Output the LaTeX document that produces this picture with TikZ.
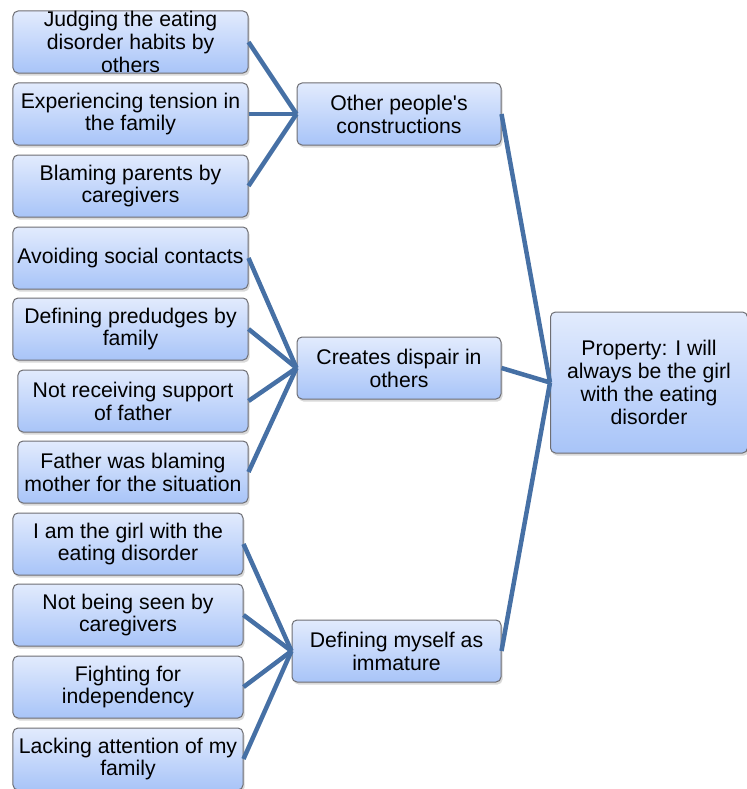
\documentclass[tikz,border=0pt]{standalone}
\usepackage{fontspec}
\setmainfont{Liberation Sans}
\usetikzlibrary{shadows}
\definecolor{linkblue}{RGB}{70,112,165}
\definecolor{boxtop}{RGB}{226,235,253}
\definecolor{boxbot}{RGB}{168,196,248}
\definecolor{boxedge}{RGB}{110,110,115}
\begin{document}
\begin{tikzpicture}[x=1bp,y=-1bp,
  box/.style={draw=boxedge, line width=1bp, rounded corners=5bp,
    top color=boxtop, bottom color=boxbot,
    drop shadow={shadow xshift=1.5bp, shadow yshift=-2.5bp, opacity=0.3},
    align=center, inner sep=0pt, minimum height=62bp,
    font=\fontsize{21.3}{23}\selectfont},
  link/.style={draw=linkblue, line width=4.5bp}]
\useasboundingbox (0,0) rectangle (747,789);

% causes, first group
\node[box, minimum width=235bp] (b1) at (130.5,42) {Judging the eating\\disorder habits by\\others};
\node[box, minimum width=235bp] (b2) at (130.5,114) {Experiencing tension in\\the family};
\node[box, minimum width=235bp] (b3) at (130.5,186) {Blaming parents by\\caregivers};
% causes, second group
\node[box, minimum width=235bp] (b4) at (130.5,258) {Avoiding social contacts};
\node[box, minimum width=235bp] (b5) at (130.5,329) {Defining predudges by\\family};
\node[box, minimum width=230bp] (b6) at (133,401) {Not receiving support\\of father};
\node[box, minimum width=230bp] (b7) at (133,472) {Father was blaming\\mother for the situation};
% causes, third group
\node[box, minimum width=230bp] (b8) at (128,544) {I am the girl with the\\eating disorder};
\node[box, minimum width=230bp] (b9) at (128,615) {Not being seen by\\caregivers};
\node[box, minimum width=230bp] (b10) at (128,687) {Fighting for\\independency};
\node[box, minimum width=230bp] (b11) at (128,759) {Lacking attention of my\\family};

% categories
\node[box, minimum width=204bp] (m1) at (399,114) {Other people\textquotesingle s\\constructions};
\node[box, minimum width=204bp] (m2) at (399,368) {Creates dispair in\\others};
\node[box, minimum width=209bp] (m3) at (396.5,651) {Defining myself as\\immature};

% property
\node[box, minimum width=197bp, minimum height=141bp] (p) at (649,382.5) {Property: I will\\always be the girl\\with the eating\\disorder};

% connectors
\foreach \s in {b1,b2,b3} \draw[link] (\s.east) -- (m1.west);
\foreach \s in {b4,b5,b6,b7} \draw[link] (\s.east) -- (m2.west);
\foreach \s in {b8,b9,b10,b11} \draw[link] (\s.east) -- (m3.west);
\foreach \s in {m1,m2,m3} \draw[link] (\s.east) -- (p.west);
\end{tikzpicture}
\end{document}
